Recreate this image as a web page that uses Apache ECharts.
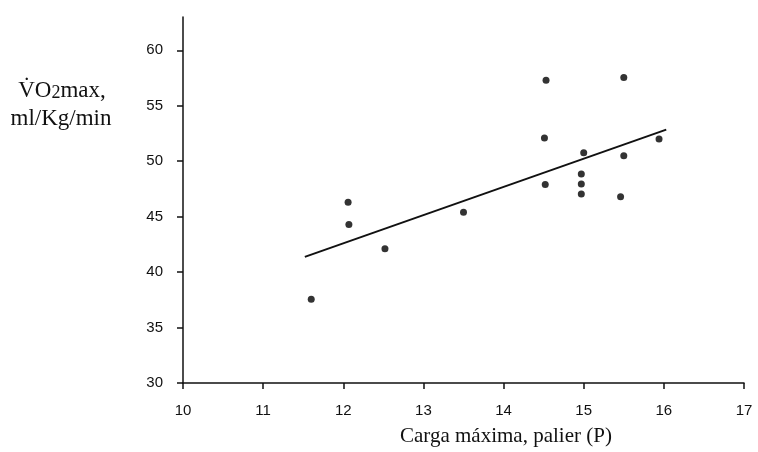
<!DOCTYPE html>
<html lang="es">
  <head>
    <meta charset="UTF-8" />
    <title>VO2max vs carga máxima</title>
    <script src="https://cdn.jsdelivr.net/npm/echarts@6/dist/echarts.min.js"></script>
    <style>
      html, body { margin: 0; padding: 0; background: #fff; }
      #chart { width: 758px; height: 452px; }
    </style>
  </head>
  <body>
    <div id="chart"></div>
    <script>
      // carga máxima (palier) de cada sujeto
      var cargaX = [11.6, 12.06, 12.07, 12.52, 13.5, 14.52, 14.51, 14.53, 14.97, 14.97, 14.97, 15.0, 15.46, 15.5, 15.5, 15.94];
      // VO2max medido (ml/Kg/min)
      var vo2Y = [37.55, 46.3, 44.3, 42.1, 45.4, 47.9, 52.1, 57.3, 47.05, 47.95, 48.85, 50.75, 46.8, 50.5, 57.55, 52.0];
      // recta de regresión (extremos)
      var rectaX = [11.52, 16.03];
      var rectaY = [41.37, 52.85];
      var yTicks = [30, 35, 40, 45, 50, 55, 60];
      var xTicks = [10, 11, 12, 13, 14, 15, 16, 17];

      var puntos = cargaX.map(function (x, i) { return [x, vo2Y[i]]; });
      var recta = rectaX.map(function (x, i) { return [x, rectaY[i]]; });

      var ink = '#111';
      var serif = '"Liberation Serif"';
      var chart = echarts.init(document.getElementById('chart'));
      chart.setOption({
        animation: false,
        grid: { left: 183, right: 14, top: 17, bottom: 69 },
        xAxis: {
          type: 'value',
          min: 10,
          max: 17,
          interval: 1,
          splitLine: { show: false },
          axisLine: { lineStyle: { color: ink, width: 1.5 } },
          axisTick: { length: 6, lineStyle: { color: ink, width: 1.5 } },
          axisLabel: {
            margin: 20,
            fontFamily: 'Liberation Sans',
            fontSize: 15,
            color: ink,
            customValues: xTicks
          }
        },
        yAxis: {
          type: 'value',
          min: 30,
          max: 63,
          splitLine: { show: false },
          axisLine: { show: true, lineStyle: { color: ink, width: 1.5 } },
          axisTick: { show: true, length: 6, lineStyle: { color: ink, width: 1.5 }, customValues: yTicks },
          axisLabel: {
            margin: 20,
            fontFamily: 'Liberation Sans',
            fontSize: 15,
            color: ink,
            customValues: yTicks
          }
        },
        graphic: [
          {
            type: 'text',
            left: 400,
            top: 426,
            style: {
              text: 'Carga máxima, palier (P)',
              font: '21px ' + serif,
              fill: ink
            }
          },
          {
            type: 'text',
            x: 62,
            y: 91,
            style: {
              text: '{a|V\u0307O}{b|2}{a|max,}',
              align: 'center',
              verticalAlign: 'middle',
              rich: {
                a: { font: '23px ' + serif, fill: ink },
                b: { font: '18px ' + serif, fill: ink, padding: [4, 0, 0, 0] }
              }
            }
          },
          {
            type: 'text',
            x: 61,
            y: 119,
            style: {
              text: 'ml/Kg/min',
              align: 'center',
              verticalAlign: 'middle',
              font: '23px ' + serif,
              fill: ink
            }
          }
        ],
        series: [
          {
            type: 'scatter',
            data: puntos,
            symbol: 'circle',
            symbolSize: 7,
            itemStyle: { color: '#000' }
          },
          {
            type: 'line',
            data: recta,
            symbol: 'none',
            lineStyle: { color: ink, width: 2 }
          }
        ]
      });
    </script>
  </body>
</html>
